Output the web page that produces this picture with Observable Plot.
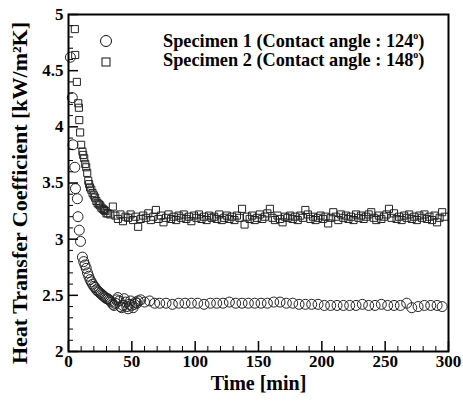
<!DOCTYPE html>
<html><head><meta charset="utf-8">
<script src="https://cdn.jsdelivr.net/npm/d3@7"></script>
<script src="https://cdn.jsdelivr.net/npm/@observablehq/plot@0.6"></script>
<style>
body{margin:0;background:#fff;}
#wrap{position:relative;width:463px;height:402px;overflow:hidden;}
svg text{font-family:"Liberation Serif","Times New Roman",serif;}
.lg{position:absolute;font-family:"Liberation Serif","Times New Roman",serif;font-weight:bold;font-size:18.3px;line-height:18px;white-space:nowrap;color:#000;}
.lg sup{font-size:10px;vertical-align:8px;line-height:0;}
.mk{position:absolute;}
</style></head><body>
<div id="wrap"><div id="chart"></div>
<svg class="mk" style="left:99px;top:34px" width="14" height="14"><circle cx="7" cy="7" r="5.5" fill="none" stroke="#111" stroke-width="1"/></svg>
<svg class="mk" style="left:99px;top:55px" width="14" height="14"><rect x="3" y="3" width="8" height="8" fill="none" stroke="#111" stroke-width="1"/></svg>
<div class="lg" style="left:163px;top:32px">Specimen 1 (Contact angle : 124<sup>o</sup>)</div>
<div class="lg" style="left:163px;top:51px">Specimen 2 (Contact angle : 148<sup>o</sup>)</div>
</div>
<script>
const time1 = [1.5,3,3.5,5,5.5,7,7.5,8.5,9.5,11,12,13,14,15,16,17,18,19,20,21,22,23,24,25,26,27,28,29,30,31,32,33,34,35,36,37,38,39,40,41,42,43,44,45,46,47,48,49,50,51,52,53,54,55,57,60,64,68,72,77,82,87,92,97,102,107,112,117,122,127,132,137,142,147,152,157,162,167,172,177,182,187,192,197,202,207,212,217,222,227,232,237,242,247,252,257,262,267,271,276,281,286,291,295];
const htc1 = [4.62,4.26,3.84,3.64,3.45,3.36,3.20,3.08,2.98,2.84,2.80,2.77,2.74,2.70,2.67,2.64,2.62,2.60,2.58,2.57,2.55,2.54,2.53,2.52,2.51,2.50,2.49,2.48,2.47,2.47,2.46,2.45,2.44,2.42,2.41,2.43,2.46,2.48,2.45,2.40,2.39,2.41,2.47,2.44,2.40,2.38,2.42,2.45,2.41,2.39,2.42,2.44,2.43,2.45,2.46,2.44,2.45,2.43,2.43,2.43,2.42,2.43,2.43,2.43,2.43,2.42,2.43,2.43,2.43,2.44,2.43,2.43,2.43,2.43,2.43,2.43,2.44,2.44,2.43,2.43,2.42,2.42,2.42,2.42,2.41,2.41,2.41,2.41,2.41,2.41,2.42,2.41,2.41,2.42,2.41,2.41,2.41,2.43,2.39,2.40,2.41,2.41,2.41,2.40];
const time2 = [5,5.3,6.6,7.7,8.2,8.5,9.2,10,11,11.6,12.4,13.2,14,14.8,15.6,16.3,17,18,19,20,21,22,23,24,25,26,27,28,29,30,
31,33,35,37,39,41,43,45,47,49,51,53,55,57,59,61,63,65,67,69,71,73,75,77,79,81,83,85,87,89,91,93,95,97,99,101,103,105,107,109,111,113,115,117,119,121,123,125,127,129,131,133,135,137,139,141,143,145,147,149,151,153,155,157,159,161,163,165,167,169,171,173,175,177,179,181,183,185,187,189,191,193,195,197,199,201,203,205,207,209,211,213,215,217,219,221,223,225,227,229,231,233,235,237,239,241,243,245,247,249,251,253,255,257,259,261,263,265,267,269,271,273,275,277,279,281,283,285,287,289,291,293,295,297];
const htc2 = [4.87,4.64,4.40,4.21,4.17,4.06,3.95,3.84,3.78,3.75,3.72,3.67,3.64,3.59,3.52,3.49,3.46,3.44,3.41,3.39,3.37,3.34,3.32,3.31,3.30,3.28,3.27,3.26,3.25,3.23,
3.23,3.22,3.29,3.21,3.18,3.22,3.16,3.20,3.19,3.22,3.17,3.20,3.11,3.18,3.21,3.19,3.23,3.17,3.20,3.26,3.18,3.21,3.15,3.19,3.22,3.18,3.20,3.17,3.21,3.19,3.22,3.18,3.20,3.16,3.21,3.19,3.22,3.18,3.20,3.17,3.21,3.19,3.20,3.18,3.22,3.17,3.19,3.21,3.18,3.20,3.17,3.21,3.19,3.27,3.13,3.20,3.18,3.21,3.17,3.19,3.22,3.18,3.20,3.23,3.27,3.19,3.17,3.21,3.18,3.15,3.20,3.19,3.21,3.18,3.20,3.17,3.21,3.19,3.26,3.22,3.18,3.20,3.17,3.19,3.21,3.18,3.20,3.14,3.19,3.24,3.20,3.17,3.22,3.19,3.21,3.18,3.20,3.17,3.22,3.19,3.21,3.18,3.20,3.22,3.24,3.19,3.17,3.21,3.18,3.20,3.22,3.27,3.19,3.23,3.18,3.20,3.17,3.21,3.19,3.22,3.18,3.20,3.17,3.21,3.19,3.22,3.18,3.20,3.17,3.21,3.15,3.19,3.24,3.20];
const xTicks = [0,50,100,150,200,250,300];
const xMinor = [10,20,30,40,60,70,80,90,110,120,130,140,160,170,180,190,210,220,230,240,260,270,280,290];
const yTicks = [2,2.5,3,3.5,4,4.5,5];
const yMinor = [2.1,2.2,2.3,2.4,2.6,2.7,2.8,2.9,3.1,3.2,3.3,3.4,3.6,3.7,3.8,3.9,4.1,4.2,4.3,4.4,4.6,4.7,4.8,4.9];
const xLabel = "Time [min]";
const yLabel = "Heat Transfer Coefficient [kW/m\u00B2K]";

const s1 = time1.map((t, i) => ({t, h: htc1[i]}));
const s2 = time2.map((t, i) => ({t, h: htc2[i]}));
const font = "Liberation Serif";
const W = 463, H = 402, mL = 68, mR = 15, mT = 14, mB = 51;
const plotW = W - mL - mR, plotH = H - mT - mB;
const xDomain = [0, 300], yDomain = [2, 5];
// tick lengths (pixels) converted to data units so the rules point inward
const yPer = (yDomain[1] - yDomain[0]) / plotH, xPer = (xDomain[1] - xDomain[0]) / plotW;

const chart = Plot.plot({
  width: W, height: H,
  marginLeft: mL, marginRight: mR, marginTop: mT, marginBottom: mB,
  x: {domain: xDomain},
  y: {domain: yDomain},
  marks: [
    Plot.dot(s2, {x: "t", y: "h", symbol: "square", r: 4, stroke: "#222", strokeWidth: 1, fill: "none"}),
    Plot.dot(s1, {x: "t", y: "h", symbol: "circle", r: 5, stroke: "#222", strokeWidth: 1, fill: "none"}),
    Plot.ruleX(xTicks, {x: d => d, y1: yDomain[0], y2: yDomain[0] + 10 * yPer, stroke: "#000", strokeWidth: 1.5}),
    Plot.ruleX(xMinor, {x: d => d, y1: yDomain[0], y2: yDomain[0] + 5 * yPer, stroke: "#000", strokeWidth: 1}),
    Plot.ruleY(yTicks, {y: d => d, x1: xDomain[0], x2: xDomain[0] + 10 * xPer, stroke: "#000", strokeWidth: 1.5}),
    Plot.ruleY(yMinor, {y: d => d, x1: xDomain[0], x2: xDomain[0] + 5 * xPer, stroke: "#000", strokeWidth: 1}),
    Plot.axisX({ticks: xTicks, tickSize: 0, tickPadding: 3, tickFormat: d => String(d), fontSize: 17, fontWeight: "bold", fontFamily: font, fill: "#000", label: null}),
    Plot.axisY({ticks: yTicks, tickSize: 0, tickPadding: 5, tickFormat: d => String(d), fontSize: 17, fontWeight: "bold", fontFamily: font, fill: "#000", label: null}),
    Plot.frame({stroke: "#000", strokeWidth: 2}),
    Plot.text([xLabel], {frameAnchor: "bottom", dy: 38, fontSize: 20, fontWeight: "bold", fontFamily: font, fill: "#000"}),
    Plot.text([yLabel], {frameAnchor: "left", textAnchor: "middle", rotate: -90, dx: -49, dy: 10, fontSize: 22, fontWeight: "bold", fontFamily: font, fill: "#000"})
  ]
});
document.getElementById("chart").appendChild(chart);
</script>
</body></html>
